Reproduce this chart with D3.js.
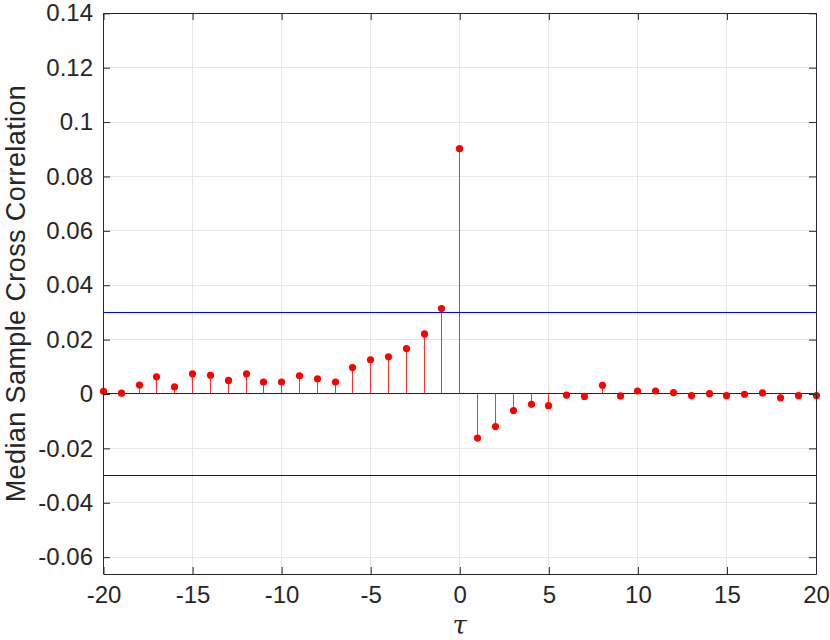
<!DOCTYPE html>
<head>
  <meta charset="utf-8">
  <script src="https://d3js.org/d3.v7.min.js"></script>
  <style>
    body { margin:0; background:#fff; }
    text { font-family: "Liberation Sans", Arial, Helvetica, sans-serif; fill:#262626; }
  </style>
</head>
<body>
<script>
  // lags and median cross correlation values
  var lags = [-20,-19,-18,-17,-16,-15,-14,-13,-12,-11,-10,-9,-8,-7,-6,-5,-4,-3,-2,-1,
              0,1,2,3,4,5,6,7,8,9,10,11,12,13,14,15,16,17,18,19,20];
  var corrVals = [0.0010,0.0003,0.0033,0.0063,0.0026,0.0074,0.0069,0.0050,0.0074,0.0044,
                  0.0044,0.0067,0.0056,0.0044,0.0097,0.0126,0.0137,0.0167,0.0221,0.0314,
                  0.0902,-0.0162,-0.0120,-0.0061,-0.0038,-0.0043,-0.0004,-0.0009,0.0032,-0.0007,
                  0.0011,0.0011,0.0005,-0.0006,0.0001,-0.0006,-0.0001,0.0004,-0.0014,-0.0006,-0.0006];
  var confBound = [0.03, -0.03];
  var xTicks = [-20,-15,-10,-5,0,5,10,15,20];
  var yTicks = [-0.06,-0.04,-0.02,0,0.02,0.04,0.06,0.08,0.1,0.12,0.14];

  var width = 830, height = 640;
  var margin = {top: 13.3, right: 14, bottom: 66, left: 103.5};

  var data = lags.map(function(d, i){ return {x: d, y: corrVals[i]}; });

  var xScale = d3.scaleLinear().domain([-20, 20]).range([margin.left, width - margin.right]);
  var yScale = d3.scaleLinear().domain([-0.0662, 0.14]).range([height - margin.bottom, margin.top]);

  // snap horizontal/vertical lines to pixel centres so they stay 1px sharp
  var px = function(v){ return Math.round(v - 0.5) + 0.5; };
  // matlab style labels, plain hyphen minus
  var fmt = function(d){ return String(+d.toFixed(2)).replace("\u2212", "-"); };

  var svg = d3.select("body").append("svg")
    .attr("width", width)
    .attr("height", height);

  var x0 = px(xScale.range()[0]), x1 = px(xScale.range()[1]);
  var y0 = px(yScale.range()[0]), y1 = px(yScale.range()[1]);

  // grid
  svg.append("g").attr("class", "xgrid").selectAll("line").data(xTicks).enter().append("line")
    .attr("x1", function(d){ return px(xScale(d)); })
    .attr("x2", function(d){ return px(xScale(d)); })
    .attr("y1", y0).attr("y2", y1)
    .style("stroke", "#e6e6e6").style("stroke-width", 1);
  svg.append("g").attr("class", "ygrid").selectAll("line").data(yTicks).enter().append("line")
    .attr("y1", function(d){ return px(yScale(d)); })
    .attr("y2", function(d){ return px(yScale(d)); })
    .attr("x1", x0).attr("x2", x1)
    .style("stroke", "#e6e6e6").style("stroke-width", 1);

  // baseline
  svg.append("line")
    .attr("x1", x0).attr("x2", x1)
    .attr("y1", px(yScale(0))).attr("y2", px(yScale(0)))
    .style("stroke", "#262626").style("stroke-width", 1);

  // stems
  svg.append("g").attr("class", "stems").selectAll("line").data(data).enter().append("line")
    .attr("x1", function(d){ return px(xScale(d.x)); })
    .attr("x2", function(d){ return px(xScale(d.x)); })
    .attr("y1", px(yScale(0)))
    .attr("y2", function(d){ return yScale(d.y); })
    .style("stroke", "#ff3030").style("stroke-width", 1);

  // confidence bounds
  svg.append("g").attr("class", "bounds").selectAll("path").data(confBound).enter().append("path")
    .attr("d", function(d){ var y = px(yScale(d)); return "M" + x0 + "," + y + "H" + x1; })
    .style("fill", "none").style("stroke", "#0000ff").style("stroke-width", 1);

  // markers
  svg.append("g").attr("class", "markers").selectAll("circle").data(data).enter().append("circle")
    .attr("cx", function(d){ return px(xScale(d.x)); })
    .attr("cy", function(d){ return yScale(d.y); })
    .attr("r", 3.6)
    .style("fill", "#ff0000");

  // axes (ticks inward, box on)
  var axisStyle = function(g){
    g.select(".domain").attr("stroke", "#262626");
    g.selectAll(".tick line").attr("stroke", "#262626");
    g.selectAll("text").style("font-size", "24px").attr("fill", "#262626");
  };
  svg.append("g")
    .attr("transform", "translate(0," + (y0 - 0.5) + ")")
    .call(d3.axisBottom(xScale).tickValues(xTicks).tickSizeInner(-7).tickSizeOuter(0).tickPadding(12)
      .tickFormat(fmt))
    .call(axisStyle);
  svg.append("g")
    .attr("transform", "translate(0," + (y1 - 0.5) + ")")
    .call(d3.axisTop(xScale).tickValues(xTicks).tickSizeInner(-7).tickSizeOuter(0).tickFormat(""))
    .call(axisStyle);
  svg.append("g")
    .attr("transform", "translate(" + (x0 - 0.5) + ",0)")
    .call(d3.axisLeft(yScale).tickValues(yTicks).tickSizeInner(-7).tickSizeOuter(0).tickPadding(10)
      .tickFormat(fmt))
    .call(axisStyle);
  svg.append("g")
    .attr("transform", "translate(" + (x1 - 0.5) + ",0)")
    .call(d3.axisRight(yScale).tickValues(yTicks).tickSizeInner(-7).tickSizeOuter(0).tickFormat(""))
    .call(axisStyle);

  // axis labels
  svg.append("text")
    .attr("x", xScale(0)).attr("y", 634)
    .attr("text-anchor", "middle")
    .style("font-size", "26px").style("font-style", "italic")
    .style("font-family", "'DejaVu Serif', 'Liberation Serif', serif")
    .text("τ");
  svg.append("text")
    .attr("transform", "translate(25,293.5) rotate(-90)")
    .attr("text-anchor", "middle")
    .style("font-size", "27px")
    .style("letter-spacing", "0.4px")
    .text("Median Sample Cross Correlation");
</script>
</body>
